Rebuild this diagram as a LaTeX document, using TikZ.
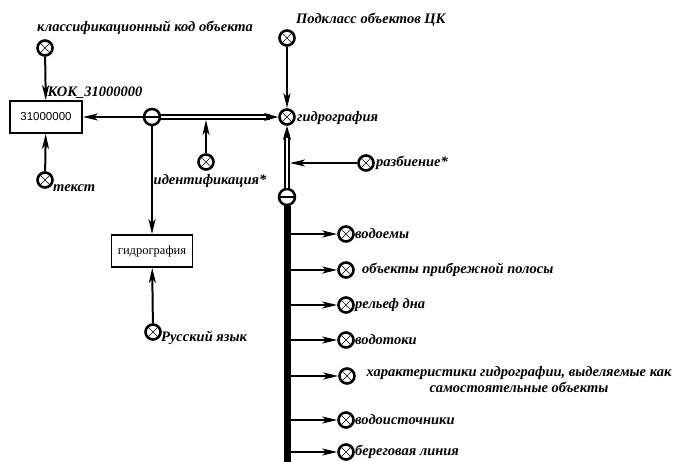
\documentclass[tikz,border=0pt]{standalone}
\usepackage{fontspec}
\setmainfont{Liberation Serif}
\newfontfamily\boxsans{Liberation Sans}
\usetikzlibrary{positioning}
\usetikzlibrary{arrows.meta}

\begin{document}
\begin{tikzpicture}[x=1pt, y=-1pt,
		ox/.style = {circle, draw, line width=2.6pt, minimum size=15pt, inner sep=0pt,
			path picture={\draw[line width=0.6pt] (path picture bounding box.north west) -- (path picture bounding box.south east)
				(path picture bounding box.north east) -- (path picture bounding box.south west);}},
		th/.style = {circle, draw, line width=2.5pt, minimum size=16pt, inner sep=0pt,
			path picture={\draw[line width=1.8pt] (path picture bounding box.west) -- (path picture bounding box.east);}},
		b/.style = {rectangle, draw, line width=1.8pt, minimum height=32pt, inner sep=0pt},
		r/.style = {-{Stealth[length=15pt, width=7pt, inset=4pt]}, line width=2pt},
		d/.style = {line width=5.5pt, -{Stealth[length=14pt, width=8pt]},
			postaction={draw, white, line width=2pt, -, shorten >=12pt}},
		bus/.style = {line width=7pt},
		lbl/.style = {font=\bfseries\itshape\fontsize{14.5}{16}\selectfont, inner sep=1pt}
		]
		\clip (0,0) rectangle (673,462);
		
		%Nodes
		\node[lbl, anchor=west]	(kodtxt)	at	(36, 28)	{классификационный код объекта};
		\node[ox]	(kod)	at	(45, 48)	{};
		\node[b, minimum width=72pt, font=\boxsans\fontsize{11.5}{13}\selectfont]	(box31)	at	(46, 117)	{31000000};
		\node[ox]	(tekst)	at	(45, 180)	{};
		\node[lbl, anchor=west]	(teksttxt)	at	(52, 188)	{текст};
		\node[th]	(th1)	at	(152, 117)	{};
		\node[ox]	(ident)	at	(206, 162)	{};
		\coordinate	(identp)	at	(206, 120);
		\node[lbl]	(identtxt)	at	(210, 181)	{идентификация*};
		\node[lbl, anchor=west]	(podtxt)	at	(295, 20)	{Подкласс объектов ЦК};
		\node[ox]	(pod)	at	(287, 38)	{};
		\node[ox]	(hyd)	at	(287, 117)	{};
		\node[lbl, anchor=west]	(hydtxt)	at	(296, 118)	{гидрография};
		\node[ox]	(razb)	at	(366, 163)	{};
		\coordinate	(razbp)	at	(290, 163);
		\node[lbl, anchor=west]	(razbtxt)	at	(375, 163)	{разбиение*};
		\node[th]	(th2)	at	(287, 197)	{};
		\coordinate	(busend)	at	(287, 470);
		\node[b, minimum width=81pt, font=\fontsize{12.5}{14}\selectfont]	(boxg)	at	(152, 251)	{гидрография};
		\node[ox]	(rus)	at	(153, 332)	{};
		\node[lbl, anchor=west]	(rustxt)	at	(160, 338)	{Русский язык};
		
		%Branches
		\coordinate	(p1)	at	(289, 234);
		\coordinate	(p2)	at	(289, 270);
		\coordinate	(p3)	at	(289, 305);
		\coordinate	(p4)	at	(289, 340);
		\coordinate	(p5)	at	(289, 376);
		\coordinate	(p6)	at	(289, 420);
		\coordinate	(p7)	at	(289, 452);
		\node[ox]	(c1)	at	(346, 234)	{};
		\node[ox]	(c2)	at	(346, 270)	{};
		\node[ox]	(c3)	at	(346, 305)	{};
		\node[ox]	(c4)	at	(346, 340)	{};
		\node[ox]	(c5)	at	(347, 376)	{};
		\node[ox]	(c6)	at	(346, 420)	{};
		\node[ox]	(c7)	at	(346, 452)	{};
		\node[lbl, anchor=west]	(t1)	at	(354, 234)	{водоемы};
		\node[lbl, anchor=west]	(t2)	at	(361, 270)	{объекты прибрежной полосы};
		\node[lbl, anchor=west]	(t3)	at	(354, 305)	{рельеф дна};
		\node[lbl, anchor=west]	(t4)	at	(354, 340)	{водотоки};
		\node[lbl, align=center]	(t5)	at	(519, 380)	{характеристики гидрографии, выделяемые как\\самостоятельные объекты};
		\node[lbl, anchor=west]	(t6)	at	(354, 420)	{водоисточники};
		\node[lbl, anchor=west]	(t7)	at	(354, 452)	{береговая линия};
		
		%Lines
		\draw[r]	(kod)	--	node[lbl, pos=0.82, right]	{КОК\_31000000}	(box31);
		\draw[r]	(tekst)	--	(box31);
		\draw[r]	(th1)	--	(box31);
		\draw[d]	(th1)	--	(hyd);
		\draw[r]	(th1)	--	(boxg);
		\draw[r]	(ident)	--	(identp);
		\draw[r]	(pod)	--	(hyd);
		\draw[d]	(th2)	--	(hyd);
		\draw[r]	(razb)	--	(razbp);
		\draw[bus]	(th2)	--	(busend);
		\draw[r]	(rus)	--	(boxg);
		\draw[r]	(p1)	--	(c1);
		\draw[r]	(p2)	--	(c2);
		\draw[r]	(p3)	--	(c3);
		\draw[r]	(p4)	--	(c4);
		\draw[r]	(p5)	--	(c5);
		\draw[r]	(p6)	--	(c6);
		\draw[r]	(p7)	--	(c7);
	\end{tikzpicture}
\end{document}
